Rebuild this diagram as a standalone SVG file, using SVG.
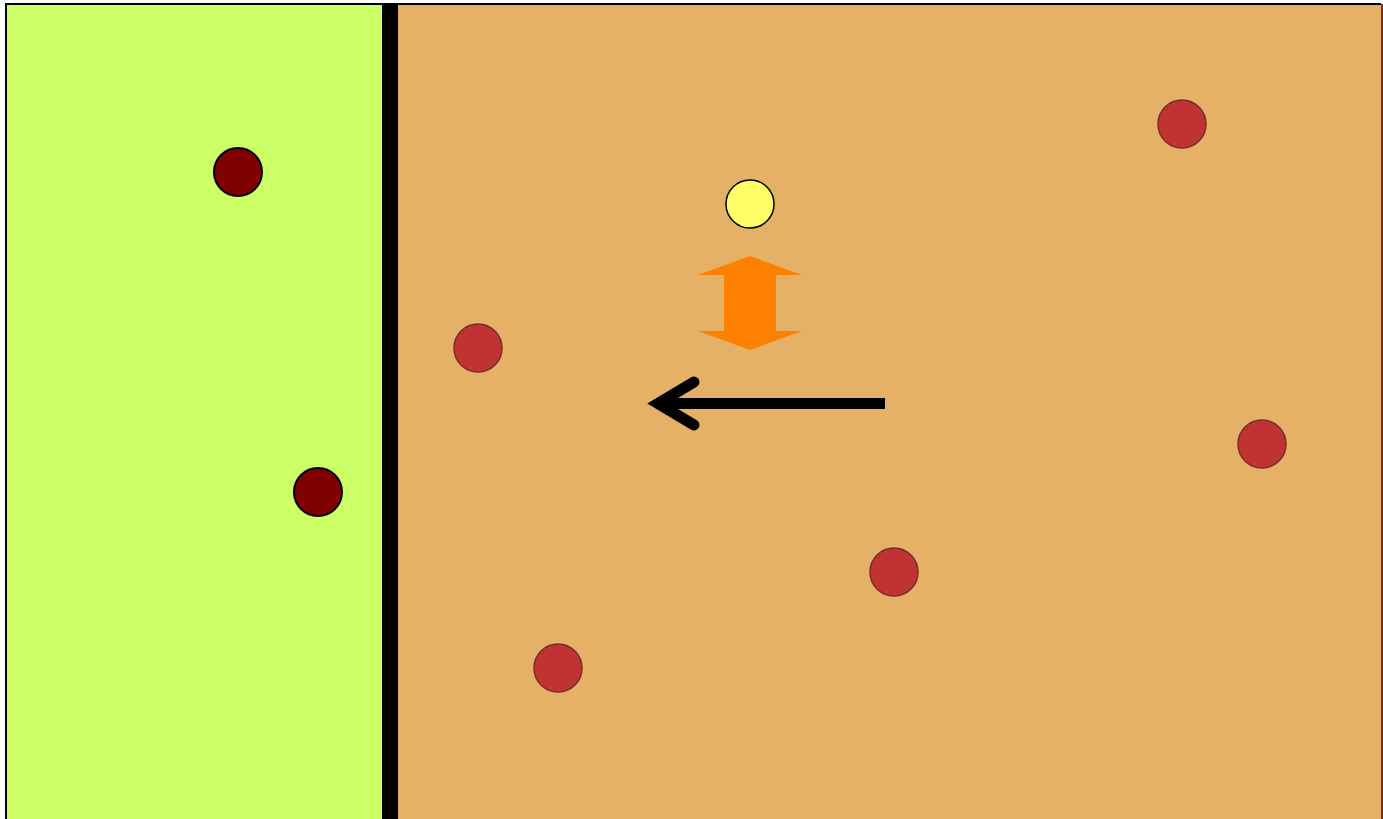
<svg xmlns="http://www.w3.org/2000/svg" width="1383" height="819" viewBox="0 0 1383 819">
<style>
.dark{fill:#800000;stroke:#000;stroke-width:2}
.red{fill:#bf3333;stroke:#7f2a2a;stroke-width:1.5}
</style>
<rect x="0" y="0" width="1383" height="819" fill="#fff"/>
<g id="zone-left"><rect x="6" y="4" width="384" height="830" fill="#ccff66"/></g>
<g id="zone-right"><rect x="390" y="4" width="992" height="830" fill="#e5b166"/></g>
<line x1="1382" y1="4" x2="1382" y2="819" stroke="#7f2b2b" stroke-width="2"/>
<line x1="5" y1="4" x2="1381" y2="4" stroke="#000" stroke-width="2"/>
<line x1="6" y1="4" x2="6" y2="819" stroke="#000" stroke-width="2"/>
<g id="wall"><rect x="382" y="4" width="16" height="815" fill="#000"/></g>
<g id="n1"><circle cx="238" cy="172" r="24" class="dark"/></g>
<g id="n2"><circle cx="318" cy="492" r="24" class="dark"/></g>
<g id="n3"><circle cx="1182" cy="124" r="24" class="red"/></g>
<g id="n4"><circle cx="478" cy="348" r="24" class="red"/></g>
<g id="n5"><circle cx="1262" cy="444" r="24" class="red"/></g>
<g id="n6"><circle cx="894" cy="572" r="24" class="red"/></g>
<g id="n7"><circle cx="558" cy="668" r="24" class="red"/></g>
<g id="n8"><circle cx="750" cy="204" r="24" fill="#ffff66" stroke="#000" stroke-width="1.5"/></g>
<g id="double-arrow"><polygon points="750,256 802,275 776,275 776,331 802,331 750,350 698,331 724,331 724,275 698,275" fill="#ff8000"/></g>
<g id="connectors">
<line x1="885" y1="403.5" x2="662" y2="403.5" stroke="#000" stroke-width="11"/>
<polyline points="694,382 658,403.5 694,425" fill="none" stroke="#000" stroke-width="11" stroke-linecap="round" stroke-linejoin="miter"/>
</g>
</svg>
